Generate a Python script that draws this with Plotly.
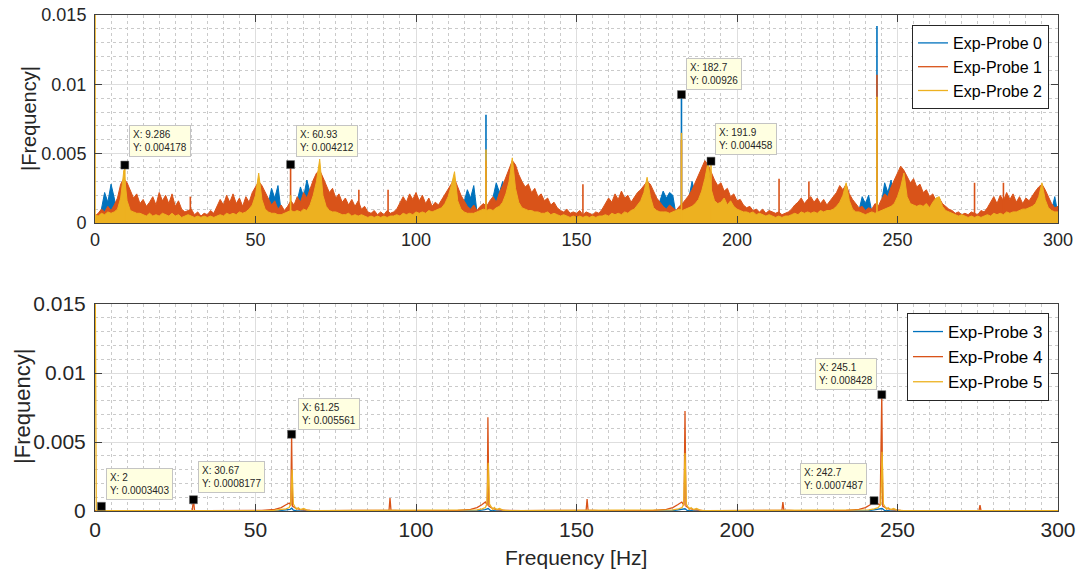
import plotly.graph_objects as go

# ---------------- DATA ----------------
# Top panel: 1 Hz grid, amplitudes in units of 1e-4
freq_top = list(range(0, 301))

probe0_e4 = [
    3, 5, 10, 22, 15, 28, 18, 5, 3, 2,
    3, 2, 3, 2, 2, 3, 2, 3, 2, 2,
    3, 2, 3, 2, 2, 3, 2, 2, 3, 2,
    4, 2, 2, 3, 2, 2, 3, 2, 2, 3,
    2, 3, 2, 2, 3, 2, 3, 2, 3, 3,
    4, 3, 4, 6, 14, 25, 18, 27, 8, 4,
    3, 4, 6, 15, 26, 19, 31, 22, 8, 4,
    3, 2, 3, 2, 2, 3, 2, 3, 2, 2,
    3, 2, 2, 3, 2, 3, 2, 2, 3, 2,
    3, 2, 2, 3, 2, 2, 3, 2, 3, 2,
    2, 3, 2, 3, 2, 2, 3, 2, 3, 3,
    3, 3, 4, 5, 7, 16, 24, 18, 27, 8,
    4, 5, 5, 8, 18, 29, 22, 30, 14, 6,
    5, 4, 4, 3, 3, 2, 3, 2, 2, 3,
    2, 3, 2, 2, 3, 2, 2, 3, 2, 2,
    3, 2, 2, 3, 2, 3, 2, 2, 3, 2,
    2, 3, 2, 3, 2, 2, 3, 2, 3, 2,
    3, 2, 3, 3, 4, 6, 16, 23, 18, 22,
    20, 6, 5, 6, 9, 18, 30, 21, 28, 9,
    6, 5, 5, 4, 4, 3, 3, 2, 3, 2,
    2, 3, 2, 2, 3, 2, 3, 2, 2, 3,
    2, 2, 3, 2, 3, 2, 2, 3, 2, 2,
    3, 2, 3, 2, 2, 3, 2, 3, 2, 2,
    3, 2, 3, 2, 3, 3, 4, 6, 9, 19,
    14, 20, 8, 5, 6, 14, 29, 22, 31, 12,
    6, 7, 7, 6, 6, 5, 4, 3, 3, 2,
    3, 2, 2, 3, 2, 3, 2, 2, 3, 2,
    2, 3, 2, 2, 3, 2, 3, 2, 2, 3,
    2, 3, 2, 2, 3, 2, 2, 3, 2, 3,
    2, 3, 2, 2, 3, 4, 4, 6, 9, 19,
    6,
]

probe1_e4 = [
    5, 7, 10, 8, 12, 9, 13, 18, 28, 32,
    29, 23, 18, 21, 14, 17, 12, 15, 19, 13,
    22, 16, 20, 14, 21, 12, 16, 10, 8, 9,
    10, 6, 8, 5, 7, 6, 9, 7, 12, 17,
    13, 20, 15, 21, 14, 18, 12, 19, 15, 22,
    26, 30, 27, 22, 17, 13, 16, 10, 13, 9,
    12, 16, 13, 19, 15, 22, 18, 25, 31, 36,
    38, 33, 28, 22, 25, 18, 21, 15, 18, 13,
    17, 12, 16, 10, 12, 8, 7, 9, 6, 8,
    6, 9, 7, 8, 10, 14, 19, 15, 21, 17,
    22, 16, 20, 14, 18, 12, 15, 13, 17, 20,
    24, 29, 32, 26, 20, 16, 12, 10, 13, 9,
    12, 14, 12, 16, 19, 15, 22, 27, 33, 39,
    45, 42, 35, 30, 26, 28, 22, 25, 19, 21,
    16, 18, 13, 15, 11, 9, 8, 10, 7, 8,
    7, 9, 6, 8, 7, 6, 8, 7, 10, 14,
    18, 15, 21, 17, 23, 18, 20, 15, 19, 22,
    24, 27, 30, 28, 23, 18, 15, 12, 10, 13,
    11, 9, 12, 14, 17, 20, 24, 29, 34, 40,
    45, 42, 36, 31, 27, 29, 23, 25, 19, 21,
    16, 17, 13, 11, 12, 9, 10, 8, 10, 7,
    9, 8, 7, 8, 6, 7, 8, 10, 13, 15,
    18, 14, 17, 19, 15, 18, 14, 17, 13, 16,
    19, 22, 27, 24, 28, 21, 17, 14, 11, 12,
    9, 11, 10, 14, 12, 17, 21, 19, 26, 31,
    36, 41, 38, 34, 29, 32, 26, 28, 22, 24,
    19, 21, 16, 18, 14, 12, 10, 9, 7, 8,
    6, 7, 6, 8, 7, 6, 9, 8, 11, 15,
    19, 14, 20, 16, 22, 17, 21, 15, 19, 14,
    18, 16, 20, 23, 26, 28, 24, 19, 14, 11,
    12,
]

probe2_e4 = [
    6, 5, 7, 6, 8, 7, 8, 10, 18, 38,
    16, 9, 8, 7, 7, 6, 5, 7, 5, 6,
    5, 7, 6, 5, 7, 5, 6, 4, 5, 6,
    5, 4, 5, 4, 5, 4, 5, 4, 5, 6,
    5, 7, 6, 7, 6, 8, 7, 8, 10, 13,
    20, 36, 17, 10, 8, 7, 7, 6, 6, 7,
    8, 9, 8, 9, 8, 10, 9, 13, 20, 30,
    46, 20, 12, 9, 8, 8, 7, 6, 6, 7,
    5, 6, 5, 6, 5, 4, 5, 4, 5, 4,
    5, 4, 5, 5, 6, 5, 7, 6, 7, 6,
    8, 7, 8, 7, 9, 8, 9, 10, 11, 14,
    19, 27, 37, 16, 10, 8, 7, 7, 7, 8,
    9, 10, 9, 10, 9, 11, 12, 15, 21, 30,
    47, 25, 15, 11, 10, 9, 9, 8, 8, 7,
    7, 8, 6, 7, 6, 5, 6, 5, 4, 5,
    4, 5, 4, 5, 4, 5, 4, 5, 5, 6,
    5, 7, 6, 7, 6, 8, 7, 9, 10, 13,
    16, 22, 33, 19, 11, 9, 8, 8, 8, 7,
    8, 9, 10, 9, 10, 11, 12, 14, 17, 23,
    32, 44, 24, 16, 14, 15, 18, 13, 16, 12,
    10, 9, 8, 8, 7, 8, 6, 7, 6, 5,
    6, 5, 4, 5, 4, 5, 5, 6, 7, 6,
    8, 7, 8, 7, 8, 7, 9, 8, 9, 9,
    10, 12, 15, 20, 29, 16, 10, 8, 8, 7,
    6, 7, 8, 7, 8, 9, 10, 11, 12, 14,
    19, 26, 36, 19, 14, 13, 12, 13, 12, 14,
    11, 15, 18, 19, 12, 9, 8, 7, 6, 5,
    6, 5, 4, 5, 4, 5, 4, 5, 6, 5,
    7, 6, 7, 6, 8, 7, 8, 8, 9, 10,
    10, 11, 12, 14, 19, 29, 17, 11, 9, 8,
    8,
]

# Narrow spectral lines in the top panel (Hz, amplitude)
spikes0_f = [121.8, 182.7, 243.6]
spikes0_v = [0.0078, 0.00926, 0.0142]
spikes1_f = [29.7, 60.93, 82.2, 91.3, 121.8, 152.0, 182.7, 213.1, 222.4, 243.6, 274.0, 283.0]
spikes1_v = [0.0019, 0.004212, 0.0024, 0.0024, 0.0045, 0.0028, 0.0060, 0.0032, 0.0030, 0.0107, 0.0029, 0.0029]
spikes2_f = [0.0, 9.286, 60.93, 121.8, 182.7, 191.9, 243.6]
spikes2_v = [0.02, 0.004178, 0.0020, 0.0053, 0.0065, 0.004458, 0.0091]

# Bottom panel: (Hz, amplitude in 1e-4)
probe3_pts = [
    (0, 0.1), (1.6, 0.2), (2.0, 3.4), (2.4, 0.2), (57, 0.1), (59.5, 0.6), (60.8, 1.2),
    (61.3, 2.0), (61.8, 0.6), (63, 0.1), (119, 0.2), (121.5, 1.0), (122.5, 1.8),
    (123.2, 0.4), (125, 0.1), (180, 0.2), (182.5, 1.0), (183.8, 1.6), (184.5, 0.4),
    (187, 0.1), (241, 0.2), (244, 1.0), (245.2, 1.8), (246, 0.4), (248, 0.1), (300, 0.1),
]
probe4_pts = [
    (0, 0.3), (28, 0.3), (30.3, 0.5), (30.67, 8.2), (31.0, 0.5), (35, 0.3),
    (52, 0.4), (56, 1.2), (58, 2.5), (59.5, 4.5), (60.5, 5.8), (61.0, 4.0), (61.25, 55.6),
    (61.5, 3.5), (62.5, 2.0), (64, 1.0), (67, 0.5), (72, 0.3),
    (89, 0.3), (91.6, 0.6), (91.9, 9.4), (92.2, 0.6), (95, 0.3),
    (113, 0.4), (117, 1.2), (119, 2.5), (120.5, 4.5), (121.6, 6.5), (122.2, 4.0), (122.4, 68.0),
    (122.7, 3.5), (123.7, 2.0), (125, 1.0), (128, 0.5), (133, 0.3),
    (150, 0.3), (153.0, 0.6), (153.3, 8.7), (153.6, 0.6), (157, 0.3),
    (174, 0.4), (178, 1.2), (180, 2.5), (181.5, 4.5), (182.8, 6.5), (183.5, 4.0), (183.8, 72.5),
    (184.1, 3.5), (185, 2.0), (186.5, 1.0), (189, 0.5), (194, 0.3),
    (211, 0.3), (214.0, 0.6), (214.3, 6.5), (214.6, 0.6), (218, 0.3),
    (234, 0.4), (238, 1.2), (240, 2.5), (241.5, 4.5), (242.7, 7.5), (244.6, 4.0), (245.1, 84.3),
    (245.4, 3.5), (246.5, 2.0), (248, 1.0), (251, 0.5), (256, 0.3),
    (272, 0.3), (275.4, 0.5), (275.7, 4.3), (276.0, 0.5), (280, 0.3), (300, 0.3),
]
probe5_pts = [
    (0, 200.0), (0.4, 0.3), (55, 0.3), (58, 0.8), (59.5, 1.5), (60.5, 2.5), (61.0, 5.0),
    (61.4, 30.0), (61.8, 5.0), (62.3, 3.0), (62.8, 1.2), (63.3, 2.5), (64, 1.0), (65, 1.8),
    (66, 0.6), (68, 0.3),
    (116, 0.3), (119, 0.8), (120.6, 1.5), (121.6, 2.5), (122.1, 5.0), (122.5, 35.0),
    (122.9, 5.0), (123.4, 3.0), (123.9, 1.2), (124.4, 2.5), (125, 1.0), (126, 1.8),
    (127, 0.6), (129, 0.3),
    (177, 0.3), (180, 0.8), (181.8, 1.5), (182.9, 2.5), (183.4, 5.0), (183.8, 42.0),
    (184.2, 5.0), (184.7, 3.0), (185.2, 1.2), (185.7, 2.5), (186.4, 1.0), (187.4, 1.8),
    (188.4, 0.6), (190, 0.3),
    (238, 0.3), (241, 0.8), (242.8, 1.5), (244.0, 2.5), (244.8, 5.0), (245.2, 43.0),
    (245.6, 5.0), (246.1, 3.0), (246.6, 1.2), (247.1, 2.5), (247.8, 1.0), (248.8, 1.8),
    (249.8, 0.6), (252, 0.3), (300, 0.3),
]

# Data tips
tips_top_x = [9.286, 60.93, 182.7, 191.9]
tips_top_y = [0.004178, 0.004212, 0.00926, 0.004458]
tips_bot_x = [2, 30.67, 61.25, 245.1, 242.7]
tips_bot_y = [0.0003403, 0.0008177, 0.005561, 0.008428, 0.0007487]

names_top = ["Exp-Probe 0", "Exp-Probe 1", "Exp-Probe 2"]
names_bot = ["Exp-Probe 3", "Exp-Probe 4", "Exp-Probe 5"]
colors = ["#0072BD", "#D95319", "#EDB120"]

x_ticks = [0, 50, 100, 150, 200, 250, 300]
y_ticks = [0, 0.005, 0.01, 0.015]

# ---------------- FIGURE ----------------
W, H = 1078, 571
fig = go.Figure()

top_series = [probe0_e4, probe1_e4, probe2_e4]
top_spikes = [(spikes0_f, spikes0_v), (spikes1_f, spikes1_v), (spikes2_f, spikes2_v)]
for i in range(3):
    vals = [v * 1e-4 for v in top_series[i]]
    fig.add_trace(go.Scatter(
        x=freq_top, y=vals, mode="lines", showlegend=False,
        line=dict(color=colors[i], width=1), fill="tozeroy", fillcolor=colors[i],
        xaxis="x", yaxis="y", hoverinfo="skip"))
    sx, sy = [], []
    for f, v in zip(*top_spikes[i]):
        sx += [f, f, None]
        sy += [0, v, None]
    fig.add_trace(go.Scatter(
        x=sx, y=sy, mode="lines", showlegend=False,
        line=dict(color=colors[i], width=1.6), xaxis="x", yaxis="y", hoverinfo="skip"))

# legend entries for the top panel (thin line samples)
for i in range(3):
    fig.add_trace(go.Scatter(x=[None], y=[None], mode="lines", name=names_top[i],
                             line=dict(color=colors[i], width=1.3),
                             xaxis="x", yaxis="y", legend="legend"))

for i, pts in enumerate([probe3_pts, probe4_pts, probe5_pts]):
    fig.add_trace(go.Scatter(
        x=[p[0] for p in pts], y=[p[1] * 1e-4 for p in pts], mode="lines",
        name=names_bot[i], line=dict(color=colors[i], width=1.3),
        xaxis="x2", yaxis="y2", legend="legend2", hoverinfo="skip"))

# data tip markers
fig.add_trace(go.Scatter(x=tips_top_x, y=tips_top_y, mode="markers", showlegend=False,
                         marker=dict(symbol="square", size=8, color="black",
                                     line=dict(color="#666", width=0.5)),
                         xaxis="x", yaxis="y", hoverinfo="skip"))
fig.add_trace(go.Scatter(x=tips_bot_x, y=tips_bot_y, mode="markers", showlegend=False,
                         marker=dict(symbol="square", size=8, color="black",
                                     line=dict(color="#666", width=0.5)),
                         xaxis="x2", yaxis="y2", hoverinfo="skip"))

annotations = []
tip_style = dict(showarrow=False, yanchor="bottom", align="left", bgcolor="#FFFFE1",
                 bordercolor="#C4C4C4", borderwidth=1, borderpad=3,
                 font=dict(size=10, color="#262626"))
top_shift = [(4, 8, "left"), (5, 8, "left"), (5, 5, "left"), (4, 6, "left")]
for (x, y), (dx, dy, anc) in zip(zip(tips_top_x, tips_top_y), top_shift):
    annotations.append(dict(x=x, y=y, xref="x", yref="y", text=f"X: {x:g}<br>Y: {y:g}",
                            xanchor=anc, xshift=dx, yshift=dy, **tip_style))
bot_shift = [(5, 6, "left"), (5, 7, "left"), (6, 4, "left"), (-5, 5, "right"), (-7, 6, "right")]
for (x, y), (dx, dy, anc) in zip(zip(tips_bot_x, tips_bot_y), bot_shift):
    annotations.append(dict(x=x, y=y, xref="x2", yref="y2", text=f"X: {x:g}<br>Y: {y:g}",
                            xanchor=anc, xshift=dx, yshift=dy, **tip_style))

# axis titles
annotations.append(dict(text="|Frequency|", xref="paper", yref="paper", x=29 / W, y=(H - 119) / H,
                        textangle=-90, showarrow=False, font=dict(size=20, color="#262626"),
                        xanchor="center", yanchor="middle"))
annotations.append(dict(text="|Frequency|", xref="paper", yref="paper", x=22 / W, y=(H - 407) / H,
                        textangle=-90, showarrow=False, font=dict(size=22, color="#262626"),
                        xanchor="center", yanchor="middle"))
annotations.append(dict(text="Frequency [Hz]", xref="paper", yref="paper", x=576 / W, y=(H - 557) / H,
                        showarrow=False, font=dict(size=21, color="#262626"),
                        xanchor="center", yanchor="middle"))

xdom = [95 / W, 1058 / W]
ydom_top = [(H - 223) / H, (H - 15) / H]
ydom_bot = [(H - 511) / H, (H - 304) / H]

axis_line = "#404040"
grid_major = "#DEDEDE"
grid_minor = "#CACACA"


def xaxis_cfg(domain_anchor, fsize):
    return dict(domain=xdom, anchor=domain_anchor, range=[0, 300], tickvals=x_ticks,
                automargin=False,
                showline=True, linecolor=axis_line, linewidth=1, mirror="ticks",
                ticks="inside", ticklen=7, tickcolor=axis_line, tickwidth=1,
                showgrid=True, gridcolor=grid_major, gridwidth=1, zeroline=False,
                tickfont=dict(size=fsize, color="#262626"),
                minor=dict(dtick=5, tick0=0, showgrid=True, gridcolor=grid_minor,
                           griddash="dot", gridwidth=1))


def yaxis_cfg(domain, anchor, fsize):
    return dict(domain=domain, anchor=anchor, range=[0, 0.015], tickvals=y_ticks,
                ticktext=["0", "0.005", "0.01", "0.015"], automargin=False,
                showline=True, linecolor=axis_line, linewidth=1, mirror="ticks",
                ticks="inside", ticklen=7, tickcolor=axis_line, tickwidth=1,
                showgrid=True, gridcolor=grid_major, gridwidth=1, zeroline=False,
                tickfont=dict(size=fsize, color="#262626"), ticklabelstandoff=4,
                minor=dict(dtick=0.001, tick0=0, showgrid=True, gridcolor=grid_minor,
                           griddash="dot", gridwidth=1))


fig.update_layout(
    width=W, height=H, margin=dict(l=0, r=0, t=0, b=0, autoexpand=False), autosize=False,
    paper_bgcolor="white", plot_bgcolor="white",
    font=dict(family="Liberation Sans, Arial, Helvetica, sans-serif", color="#262626"),
    xaxis=xaxis_cfg("y", 18), yaxis=yaxis_cfg(ydom_top, "x", 18),
    xaxis2=xaxis_cfg("y2", 21), yaxis2=yaxis_cfg(ydom_bot, "x2", 21),
    legend=dict(x=1049 / W, y=(H - 25) / H, xanchor="right", yanchor="top",
                bgcolor="white", bordercolor="#262626", borderwidth=1,
                font=dict(size=16, color="#000"), itemwidth=30, tracegroupgap=0),
    legend2=dict(x=1049 / W, y=(H - 313) / H, xanchor="right", yanchor="top",
                 bgcolor="white", bordercolor="#262626", borderwidth=1,
                 font=dict(size=17, color="#000"), itemwidth=30, tracegroupgap=0),
    annotations=annotations, showlegend=True,
)

fig.write_html("out.html")
